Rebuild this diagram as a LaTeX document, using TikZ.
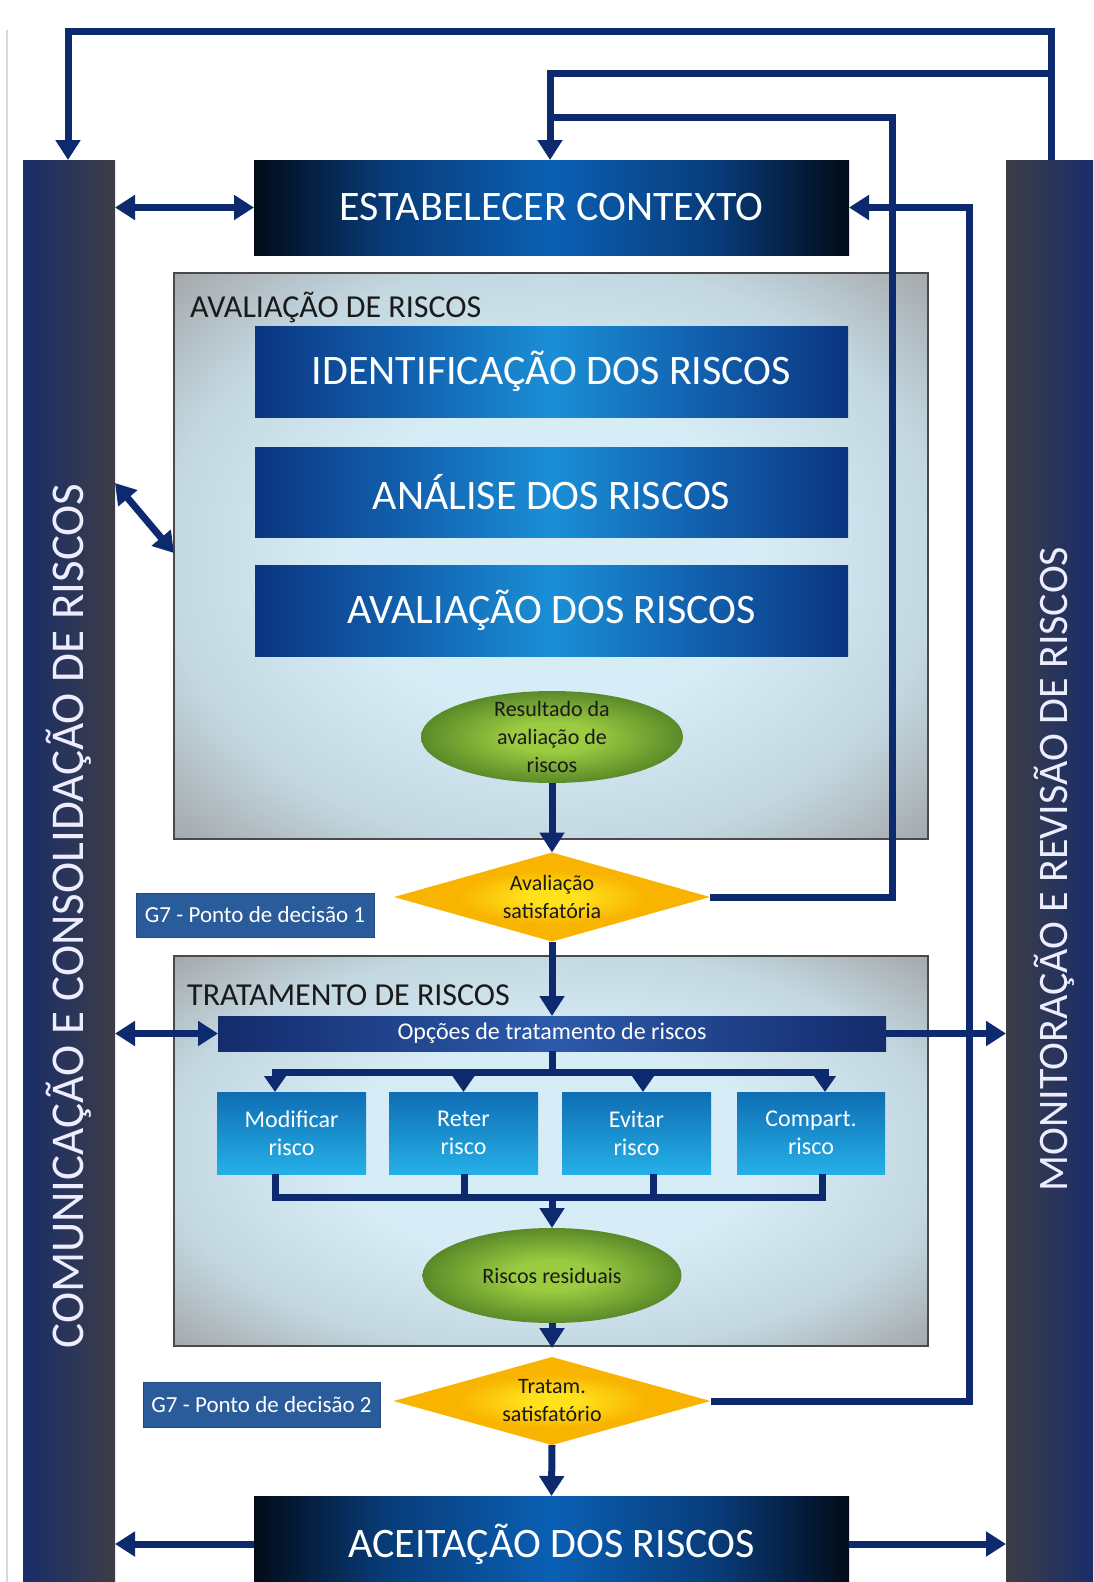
\documentclass[tikz,border=0pt]{standalone}
\usepackage{fontspec}
\setmainfont{Carlito}
\usetikzlibrary{arrows.meta,shapes.geometric,calc}

\definecolor{navy}{HTML}{0E2A6E}
\definecolor{barnavy}{HTML}{182D6A}
\definecolor{bargray}{HTML}{3D3D46}
\definecolor{dbE}{HTML}{020B18}
\definecolor{dbM}{HTML}{083B78}
\definecolor{dbC}{HTML}{0A60B4}
\definecolor{mbE}{HTML}{0A3580}
\definecolor{mbM}{HTML}{1262B0}
\definecolor{mbC}{HTML}{1B8FD6}
\definecolor{pC}{HTML}{D6ECF6}
\definecolor{pM}{HTML}{C3D7E0}
\definecolor{pE}{HTML}{A2A5A8}
\definecolor{gC}{HTML}{9BCB40}
\definecolor{gE}{HTML}{5A8A28}
\definecolor{yC}{HTML}{FFE21C}
\definecolor{yE}{HTML}{F8B400}
\definecolor{oE}{HTML}{142B6C}
\definecolor{oC}{HTML}{2C5AAA}
\definecolor{sbT}{HTML}{0F6DB3}
\definecolor{sbB}{HTML}{25B0E8}
\definecolor{gsev}{HTML}{2A5B9B}
\definecolor{panelline}{HTML}{4A4A4A}
\definecolor{darktext}{HTML}{1A1A1A}
\definecolor{edgeline}{HTML}{DAD6E4}

\pgfdeclarehorizontalshading{darkbox}{100bp}{color(0bp)=(dbE); color(25bp)=(dbE); color(36bp)=(dbM); color(50bp)=(dbC); color(64bp)=(dbM); color(75bp)=(dbE); color(100bp)=(dbE)}
\pgfdeclarehorizontalshading{midblue}{100bp}{color(0bp)=(mbE); color(25bp)=(mbE); color(38bp)=(mbM); color(50bp)=(mbC); color(62bp)=(mbM); color(75bp)=(mbE); color(100bp)=(mbE)}
\pgfdeclarehorizontalshading{opcsh}{100bp}{color(0bp)=(oE); color(25bp)=(oE); color(50bp)=(oC); color(75bp)=(oE); color(100bp)=(oE)}
\pgfdeclareradialshading{panelsh}{\pgfpoint{0bp}{0bp}}{color(0bp)=(pC); color(14bp)=(pC); color(26bp)=(pM); color(36bp)=(pE); color(50bp)=(pE)}
\pgfdeclareradialshading{greensh}{\pgfpoint{0bp}{0bp}}{color(0bp)=(gC); color(8bp)=(gC); color(25bp)=(gE); color(50bp)=(gE)}
\pgfdeclareradialshading{yellowsh}{\pgfpoint{0bp}{0bp}}{color(0bp)=(yC); color(4bp)=(yC); color(15bp)=(yE); color(50bp)=(yE)}

\begin{document}
\begin{tikzpicture}[x=1pt,y=-1pt,
  conn/.style={draw=navy, line width=7pt, line join=miter},
  tip/.style={-{Triangle[length=20pt,width=24pt]}},
  dtip/.style={{Triangle[length=20pt,width=24pt]}-{Triangle[length=20pt,width=24pt]}},
  stip/.style={-{Triangle[length=16pt,width=21pt]}},
  plain/.style={rectangle, inner sep=0pt, outer sep=0pt},
  panel/.style={plain, draw=panelline, line width=1.5pt, shading=panelsh},
  bigbox/.style={plain, shading=darkbox, text=white, font=\fontsize{42}{50}\selectfont},
  midbox/.style={plain, shading=midblue, text=white, font=\fontsize{42}{50}\selectfont},
  optbox/.style={plain, top color=sbT, bottom color=sbB, text=white, align=center,
    font=\fontsize{24}{28}\selectfont, minimum width=149pt, minimum height=82pt},
  g7box/.style={plain, fill=gsev, draw=gsev!80!black, line width=1pt, text=white,
    font=\fontsize{23}{27}\selectfont},
  ell/.style={ellipse, inner sep=0pt, outer sep=0pt, shading=greensh},
  dia/.style={diamond, inner sep=0pt, outer sep=0pt, shading=yellowsh},
  smalltext/.style={align=center, text=darktext, font=\fontsize{22}{28}\selectfont},
  lbl/.style={text=darktext, font=\fontsize{32}{38}\selectfont, inner sep=0pt},
  vtext/.style={rotate=90, text=white!93!blue, inner sep=0pt}
]
\useasboundingbox (0,0) rectangle (1093,1582);
\clip (0,0) rectangle (1093,1582);

% faint left edge line
\draw[edgeline, line width=1.5pt] (7,30) -- (7,1582);

% side bars
\node[plain, left color=barnavy, right color=bargray, minimum width=92pt, minimum height=1440pt] (lbar) at (69,880) {};
\node[plain, left color=bargray, right color=barnavy, minimum width=88pt, minimum height=1440pt] (rbar) at (1050,880) {};
\node[vtext, font=\fontsize{47}{52}\selectfont] (ltext) at (69,916) {COMUNICAÇÃO E CONSOLIDAÇÃO DE RISCOS};
\node[vtext, font=\fontsize{42}{48}\selectfont] (rtext) at (1054,869) {MONITORAÇÃO E REVISÃO DE RISCOS};

% top box
\node[bigbox, minimum width=595pt, minimum height=95pt] (est) at (551.5,207.5) {ESTABELECER CONTEXTO};

% assessment panel
\node[panel, minimum width=754pt, minimum height=566pt] (aval) at (551,556) {};
\node[lbl, anchor=base west] (avlbl) at (190,317) {AVALIAÇÃO DE RISCOS};
\node[midbox, minimum width=593pt, minimum height=91pt] (ident) at (551.5,371.5) {IDENTIFICAÇÃO DOS RISCOS};
\node[midbox, minimum width=593pt, minimum height=90pt] (anal) at (551.5,492) {ANÁLISE DOS RISCOS};
\node[midbox, minimum width=593pt, minimum height=91pt] (avald) at (551.5,610.5) {AVALIAÇÃO DOS RISCOS};
\node[ell, minimum width=262pt, minimum height=92pt] (res1) at (552,737) {};
\node[smalltext] (res1t) at (res1.center) {Resultado da\\avaliação de\\riscos};

% decision 1
\node[dia, minimum width=316pt, minimum height=89pt] (d1) at (552,897) {};
\node[smalltext] (d1t) at (d1.center) {Avaliação\\satisfatória};
\node[g7box, minimum width=238pt, minimum height=44pt] (g71) at (255,915) {G7 - Ponto de decisão 1};

% treatment panel
\node[panel, minimum width=754pt, minimum height=390pt] (trat) at (551,1151) {};
\node[lbl, anchor=base west] (trlbl) at (187,1005) {TRATAMENTO DE RISCOS};
\node[plain, shading=opcsh, minimum width=668pt, minimum height=35pt, text=white, font=\fontsize{24}{28}\selectfont] (opc) at (552,1033.5) {Opções de tratamento de riscos};
\node[optbox] (mod) at (291.5,1133) {Modificar\\risco};
\node[optbox] (ret) at (463.5,1133) {Reter\\risco};
\node[optbox] (evi) at (636.5,1133) {Evitar\\risco};
\node[optbox, minimum width=148pt] (com) at (811,1133) {Compart.\\risco};
\node[ell, minimum width=259pt, minimum height=95pt] (res2) at (552,1275.5) {};
\node[smalltext] (res2t) at (res2.center) {Riscos residuais};

% decision 2
\node[dia, minimum width=317pt, minimum height=88pt] (d2) at (552,1401) {};
\node[smalltext] (d2t) at (d2.center) {Tratam.\\satisfatório};
\node[g7box, minimum width=237pt, minimum height=45pt] (g72) at (261.5,1404.5) {G7 - Ponto de decisão 2};

% bottom box
\node[bigbox, minimum width=595pt, minimum height=96pt] (acc) at (551.5,1544) {ACEITAÇÃO DOS RISCOS};

% coordinates for routing
\coordinate (tr) at (1051,31);
\coordinate (tl) at (68,31);
\coordinate (m2) at (1051,73);
\coordinate (c2) at (550,73);
\coordinate (c3a) at (892,117);
\coordinate (c3b) at (550,117);
\coordinate (c4) at (969,207.5);
\coordinate (dg1) at (115,483);
\coordinate (dg2) at (174,553);
\coordinate (bus1) at (552,1072);
\coordinate (bus2) at (552,1197);

% feedback loops
\draw[conn, tip] (rbar.north -| tr) -- (tr) -- (tl) -- (lbar.north -| tl);
\draw[conn, tip] (m2) -- (c2) -- (est.north -| c2);
\draw[conn] (d1.east) -| (c3a) -- (c3b);
\draw[conn, tip] (d2.east) -| (c4) -- (est.east);

% communication arrows
\draw[conn, dtip] (lbar.east |- est.west) -- (est.west);
\draw[conn, dtip] (lbar.east |- dg1) -- (aval.west |- dg2);
\draw[conn, dtip] (lbar.east |- opc.west) -- (opc.west);
\draw[conn, tip] (opc.east) -- (rbar.west |- opc.east);
\draw[conn, tip] (acc.west) -- (lbar.east |- acc.west);
\draw[conn, tip] (acc.east) -- (rbar.west |- acc.east);

% main flow
\draw[conn, tip] (res1.south) -- (d1.north);
\draw[conn, tip] (d1.south) -- (opc.north);
\draw[conn] (opc.south) -- (bus1);
\draw[conn, stip] (bus1) -| ([xshift=-16.5pt]mod.north);
\draw[conn, stip] (bus1) -| (ret.north);
\draw[conn, stip] (bus1) -| ([xshift=6.5pt]evi.north);
\draw[conn, stip] (bus1) -| ([xshift=14pt]com.north);
\draw[conn] ([xshift=-16.5pt]mod.south) |- (bus2);
\draw[conn] ([xshift=0.5pt]ret.south) |- (bus2);
\draw[conn] ([xshift=16.5pt]evi.south) |- (bus2);
\draw[conn] ([xshift=11pt]com.south) |- (bus2);
\draw[conn, tip] (bus2) -- (res2.north);
\draw[conn, tip, shorten >=9pt] (res2.south) -- (d2.north);
\draw[conn, tip] (d2.south) -- (acc.north);
\end{tikzpicture}
\end{document}
